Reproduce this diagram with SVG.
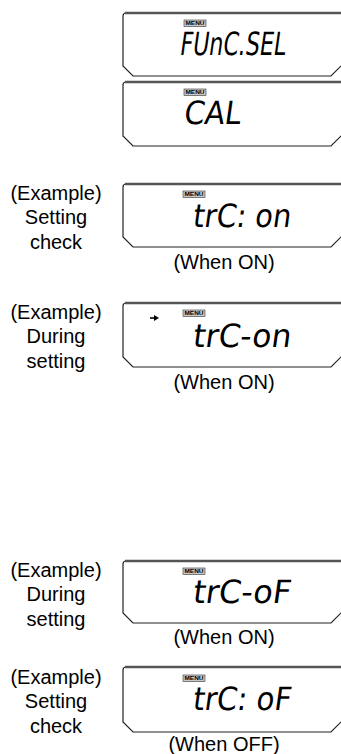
<svg xmlns="http://www.w3.org/2000/svg" width="341" height="754" viewBox="0 0 341 754">
<style>
.lbl{font-family:"Liberation Sans",Arial,sans-serif;font-size:20px;fill:#000}
.mid{text-anchor:middle}
.frame{fill:#fff;stroke:#222;stroke-width:1.2}
.topedge{stroke:#555;stroke-width:2.6;fill:none}
.menu-box{fill:#c8c8c8;stroke:#333;stroke-width:0.6}
.menu-t{font-family:"Liberation Sans",Arial,sans-serif;font-size:5.6px;font-weight:bold;fill:#000}
.seg{font-family:"DejaVu Sans",sans-serif;font-size:32px;fill:#000}
</style>
<defs>
<g id="menu"><rect class="menu-box" x="0" y="0" width="22" height="6.5"/><text class="menu-t" x="11" y="5.4" text-anchor="middle" textLength="19" lengthAdjust="spacingAndGlyphs">MENU</text></g>
</defs>
<rect width="341" height="754" fill="#fff"/>
<g id="connectors"/>

<g id="node-funcsel">
<path class="frame" d="M123,16 Q123,13 126,13 H343 V64 L331,76 H133 L123,66 Z"/>
<line class="topedge" x1="125" y1="13" x2="343" y2="13"/>
<use href="#menu" x="184" y="20"/>
<text class="seg" x="179" y="55" textLength="106" lengthAdjust="spacingAndGlyphs" transform="skewX(-8) translate(7.7,0)">FUnC.SEL</text>
</g>

<g id="node-cal">
<path class="frame" d="M123,85 Q123,82 126,82 H343 V134 L331,146 H133 L123,136 Z"/>
<line class="topedge" x1="125" y1="82" x2="343" y2="82"/>
<use href="#menu" x="184" y="89"/>
<text class="seg" x="183" y="124" textLength="57" lengthAdjust="spacingAndGlyphs" transform="skewX(-8) translate(17.4,0)">CAL</text>
</g>

<g id="node-check-on">
<text class="lbl mid" x="56" y="200">(Example)</text>
<text class="lbl mid" x="56" y="224">Setting</text>
<text class="lbl mid" x="56" y="249">check</text>
<path class="frame" d="M123,187 Q123,184 126,184 H343 V235 L331,247 H133 L123,237 Z"/>
<line class="topedge" x1="125" y1="184" x2="343" y2="184"/>
<use href="#menu" x="183" y="191"/>
<text class="seg" x="192" y="227" textLength="98" lengthAdjust="spacingAndGlyphs" transform="skewX(-8) translate(31.9,0)">trC: on</text>
<text class="lbl mid" x="224" y="269">(When ON)</text>
</g>

<g id="node-setting-on">
<text class="lbl mid" x="56" y="319">(Example)</text>
<text class="lbl mid" x="56" y="343">During</text>
<text class="lbl mid" x="56" y="368">setting</text>
<path class="frame" d="M123,306 Q123,303 126,303 H343 V355 L331,367 H133 L123,357 Z"/>
<line class="topedge" x1="125" y1="303" x2="343" y2="303"/>
<path d="M150,318 H155" stroke="#000" stroke-width="1.6"/>
<path d="M154,315 L159,318 L154,321 Z" fill="#000"/>
<use href="#menu" x="183" y="310"/>
<text class="seg" x="192" y="347" textLength="98" lengthAdjust="spacingAndGlyphs" transform="skewX(-8) translate(48.8,0)">trC-on</text>
<text class="lbl mid" x="224" y="389">(When ON)</text>
</g>

<g id="node-setting-off">
<text class="lbl mid" x="56" y="577">(Example)</text>
<text class="lbl mid" x="56" y="601">During</text>
<text class="lbl mid" x="56" y="626">setting</text>
<path class="frame" d="M123,564 Q123,561 126,561 H343 V611 L331,623 H133 L123,613 Z"/>
<line class="topedge" x1="125" y1="561" x2="343" y2="561"/>
<use href="#menu" x="183" y="568"/>
<text class="seg" x="192" y="603" textLength="98" lengthAdjust="spacingAndGlyphs" transform="skewX(-8) translate(84.7,0)">trC-oF</text>
<text class="lbl mid" x="224" y="644">(When ON)</text>
</g>

<g id="node-check-off">
<text class="lbl mid" x="56" y="684">(Example)</text>
<text class="lbl mid" x="56" y="708">Setting</text>
<text class="lbl mid" x="56" y="733">check</text>
<path class="frame" d="M123,670 Q123,667 126,667 H343 V720 L331,732 H133 L123,722 Z"/>
<line class="topedge" x1="125" y1="667" x2="343" y2="667"/>
<use href="#menu" x="183" y="675"/>
<text class="seg" x="192" y="710" textLength="98" lengthAdjust="spacingAndGlyphs" transform="skewX(-8) translate(99.8,0)">trC: oF</text>
<text class="lbl mid" x="224" y="751">(When OFF)</text>
</g>
</svg>
